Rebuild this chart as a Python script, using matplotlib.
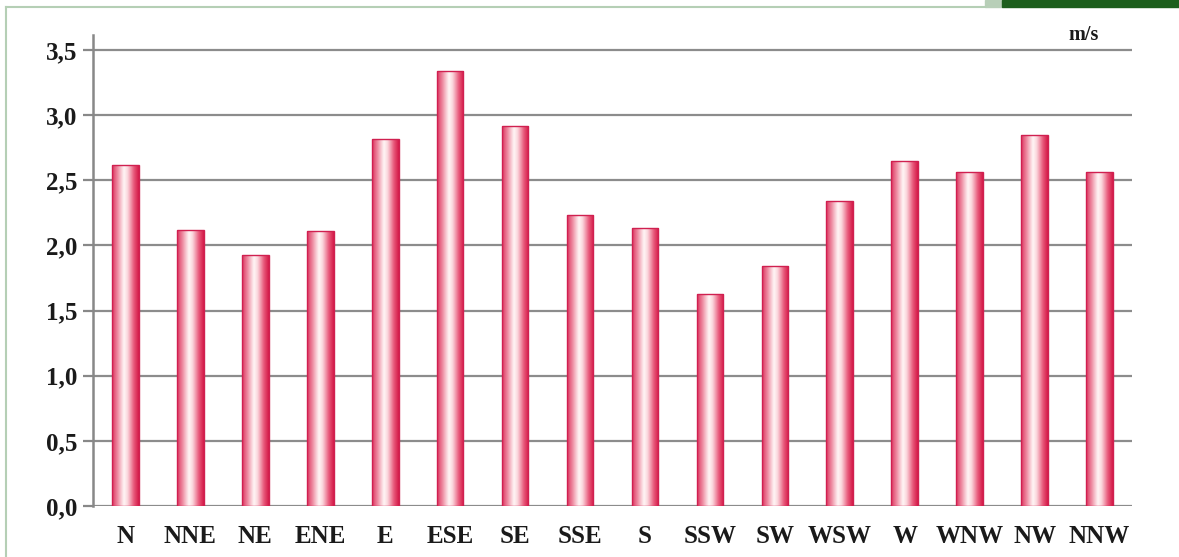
import matplotlib.pyplot as plt
import numpy as np
from matplotlib.colors import LinearSegmentedColormap
from matplotlib.patches import Rectangle
from matplotlib.lines import Line2D

# Mean wind speed by direction
directions = ['N', 'NNE', 'NE', 'ENE', 'E', 'ESE', 'SE', 'SSE',
              'S', 'SSW', 'SW', 'WSW', 'W', 'WNW', 'NW', 'NNW']
speeds = [2.62, 2.12, 1.93, 2.11, 2.82, 3.34, 2.92, 2.23,
          2.13, 1.63, 1.84, 2.34, 2.65, 2.56, 2.85, 2.56]
yticks = [0.0, 0.5, 1.0, 1.5, 2.0, 2.5, 3.0, 3.5]
ytick_labels = ['0,0', '0,5', '1,0', '1,5', '2,0', '2,5', '3,0', '3,5']

plt.rcParams['font.family'] = ['Liberation Serif', 'DejaVu Serif']

fig = plt.figure(figsize=(11.79, 5.57), dpi=100)
ax = fig.add_axes([93/1179, 1 - 506/557, (1132 - 93)/1179, (506 - 35)/557])

# cylinder-like shading across each bar
shade = LinearSegmentedColormap.from_list('cyl', [
    (0.00, '#dc3560'), (0.20, '#ee8aa0'), (0.44, '#fff6f6'),
    (0.58, '#fbd8de'), (0.82, '#e8587a'), (1.00, '#d41a48')])
grad = np.linspace(0, 1, 64).reshape(1, -1)

width = 0.41
x = np.arange(len(directions))
bars = ax.bar(x, speeds, width=width, color='none', edgecolor='#d02050',
              linewidth=1.0, zorder=3)
for b in bars:
    x0, h = b.get_x(), b.get_height()
    im = ax.imshow(grad, cmap=shade, aspect='auto', zorder=2.9,
                   extent=[x0, x0 + width, 0, h], interpolation='bicubic')
    clip = Rectangle((x0, 0), width, h, transform=ax.transData)
    im.set_clip_path(clip)

ax.set_xlim(-0.5, len(directions) - 0.5)
ax.set_ylim(0, 3.615)
ax.set_yticks(yticks)
ax.set_yticklabels(ytick_labels, fontsize=18, fontweight='bold', color='#1a1a1a')
ax.set_xticks(x)
ax.set_xticklabels(directions, fontsize=18, fontweight='bold', color='#1a1a1a')
ax.tick_params(axis='x', length=0, pad=14)
ax.tick_params(axis='y', length=7, width=1.6, color='#888888', pad=4)

for y in yticks:
    ax.axhline(y, color='#8c8c8c', linewidth=1.6, zorder=1)

for side in ['top', 'right', 'bottom']:
    ax.spines[side].set_visible(False)
ax.spines['left'].set_color('#888888')
ax.spines['left'].set_linewidth(1.8)

ax.text(0.953, 3.54, 'm/s', transform=ax.get_yaxis_transform(),
        ha='center', va='bottom', fontsize=14.5, fontweight='bold',
        color='#1a1a1a')

# page border and header strip
fig.add_artist(Line2D([6/1179, 6/1179], [0, 1 - 7/557], color='#b5cfb5',
                      linewidth=1.5, transform=fig.transFigure))
fig.add_artist(Line2D([6/1179, 985/1179], [1 - 7/557, 1 - 7/557],
                      color='#b5cfb5', linewidth=1.5, transform=fig.transFigure))
fig.add_artist(Rectangle((985/1179, 1 - 7/557), 17/1179, 7/557,
                         color='#b8cfb8', transform=fig.transFigure))
fig.add_artist(Rectangle((1002/1179, 1 - 7/557), 177/1179, 7/557,
                         color='#1c5e1c', transform=fig.transFigure))

fig.savefig('out.png', dpi=100)
